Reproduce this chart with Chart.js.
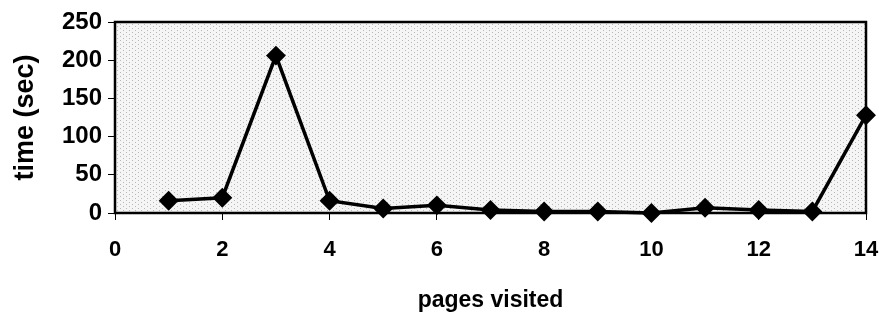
<!DOCTYPE html>
<html>
<head>
<meta charset="utf-8">
<script src="https://cdn.jsdelivr.net/npm/chart.js@4/dist/chart.umd.min.js"></script>
<style>
html,body{margin:0;padding:0;background:#fff;}
#wrap{width:879px;height:318px;position:relative;}
</style>
</head>
<body>
<div id="wrap"><canvas id="c" width="879" height="318"></canvas></div>
<script>
const pages = [1,2,3,4,5,6,7,8,9,10,11,12,13,14];
const times = [16,20,206,16,6,10,4,2,2,0,7,4,2,128];
const xTicks = [0,2,4,6,8,10,12,14];
const yTicks = [0,50,100,150,200,250];
const xTitle = 'pages visited';
const yTitle = 'time (sec)';

function makePattern(ctx){
  const t=document.createElement('canvas');t.width=6;t.height=4;
  const g=t.getContext('2d');
  g.fillStyle='#f5f5f5';g.fillRect(0,0,6,4);
  g.fillStyle='#b8b8b8';g.fillRect(0,0,1,1);g.fillRect(3,2,1,1);
  return ctx.createPattern(t,'repeat');
}
const bgPlugin={
  id:'bg',
  beforeDraw(chart){
    const {ctx,chartArea:a}=chart;
    ctx.save();ctx.fillStyle=makePattern(ctx);
    ctx.fillRect(a.left,a.top,a.right-a.left,a.bottom-a.top);ctx.restore();
  },
  afterDatasetsDraw(chart){
    const {ctx,chartArea:a}=chart;
    ctx.save();ctx.strokeStyle='#000';ctx.lineWidth=2.5;
    ctx.strokeRect(a.left,a.top,a.right-a.left,a.bottom-a.top);ctx.restore();
  }
};
const fam='"Liberation Sans", Arial, sans-serif';
const tickFontY={family:fam,size:24,weight:'bold'};
const tickFontX={family:fam,size:22,weight:'bold'};
const titleFontX={family:fam,size:23,weight:'bold'};
const titleFontY={family:fam,size:27,weight:'bold'};
new Chart(document.getElementById('c'),{
  type:'line',
  data:{datasets:[{
    data:pages.map((p,i)=>({x:p,y:times[i]})),
    borderColor:'#000',borderWidth:3.5,backgroundColor:'#000',
    pointStyle:'rectRot',pointRadius:7.5,pointHoverRadius:7.5,
    pointBackgroundColor:'#000',pointBorderColor:'#000',tension:0,clip:false
  }]},
  options:{
    responsive:false,animation:false,
    layout:{padding:{left:5,right:13,top:22,bottom:0}},
    plugins:{legend:{display:false},tooltip:{enabled:false}},
    scales:{
      x:{type:'linear',min:0,max:14,
        afterBuildTicks(s){s.ticks=xTicks.map(v=>({value:v}));},
        afterFit(s){s.height=105;s.paddingLeft=0;s.paddingRight=0;},
        grid:{drawOnChartArea:false,color:'#000',tickLength:7,lineWidth:1},
        border:{display:false},
        ticks:{color:'#000',font:tickFontX,padding:17,maxRotation:0},
        title:{display:true,text:xTitle,color:'#000',font:titleFontX,padding:{top:11}}
      },
      y:{min:0,max:250,
        afterBuildTicks(s){s.ticks=yTicks.map(v=>({value:v}));},
        afterFit(s){s.width=110;s.paddingTop=0;s.paddingBottom=0;},
        grid:{drawOnChartArea:false,color:'#000',tickLength:7,lineWidth:1},
        border:{display:false},
        ticks:{color:'#000',font:tickFontY,padding:6},
        title:{display:true,text:yTitle,color:'#000',font:titleFontY,padding:{bottom:2}}
      }
    }
  },
  plugins:[bgPlugin]
});
</script>
</body>
</html>
